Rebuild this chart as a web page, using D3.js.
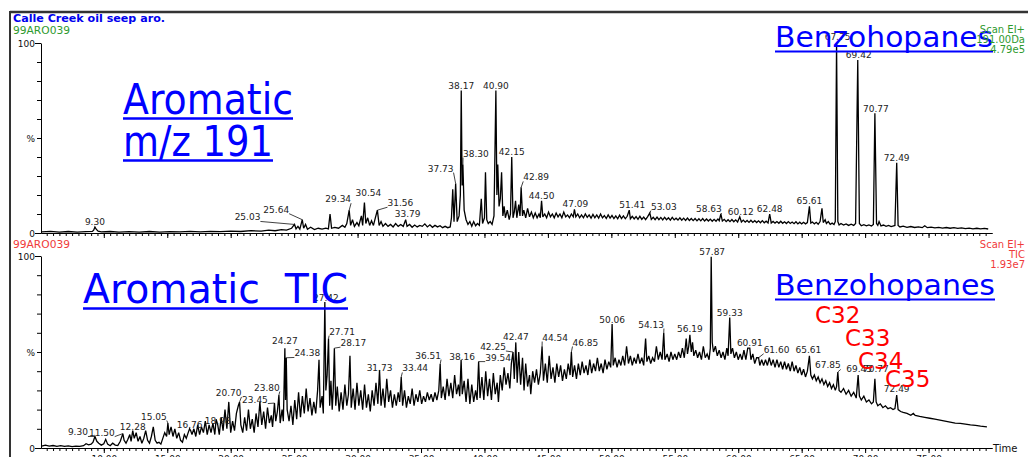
<!DOCTYPE html>
<html><head><meta charset="utf-8">
<script src="https://cdn.jsdelivr.net/npm/d3@7"></script>
<style>body{margin:0;background:#fff;overflow:hidden}svg{display:block}text{font-family:"DejaVu Sans",sans-serif}</style>
</head><body><svg id="c" width="1028" height="457"></svg>
<script>
// ---- data: retention time (min), relative intensity (%) ----
const upperTrace = [
5.1,0.6, 5.8,0.9, 6.5,0.5, 7.2,0.8, 7.9,0.5, 8.6,0.7, 9.1,0.8, 9.2,1.5, 9.30,3.2, 9.4,2.0, 9.55,1.0, 9.8,0.6, 10.5,0.8, 11.2,0.5, 12.0,0.7, 12.8,0.5, 13.6,0.8, 14.4,0.5, 15.2,0.7, 16.0,0.6, 16.8,0.9, 17.6,0.6, 18.4,0.9, 19.2,0.7, 20.0,1.0, 20.8,0.8, 21.6,1.2, 22.4,1.0, 23.0,1.5, 23.5,1.2, 24.0,1.8, 24.4,1.5, 24.8,2.5, 25.03,4.5, 25.15,2.2, 25.3,3.5, 25.45,2.0, 25.64,7, 25.75,2.5, 25.9,4.5, 26.05,2.0, 26.3,3.0, 26.6,1.8, 26.9,2.5, 27.2,2.0, 27.5,2.6, 27.7,2.2, 27.83,10, 27.95,2.5, 28.2,3.0, 28.5,2.5, 28.8,4.0, 29.0,3.0, 29.15,5.0, 29.34,12, 29.45,4.0, 29.6,7, 29.75,3.5, 29.95,5.5, 30.1,3.8, 30.3,9, 30.4,4.0, 30.54,16, 30.65,5, 30.8,8, 30.95,4.0, 31.1,6.5, 31.25,4.0, 31.4,8, 31.56,12, 31.7,4.0, 31.85,6, 32.0,3.5, 32.2,5, 32.4,3.5, 32.6,4.5, 32.8,3.2, 33.0,5, 33.2,3.5, 33.4,4.5, 33.6,3.5, 33.79,7, 33.9,3.5, 34.1,4.5, 34.3,3.0, 34.5,4.2, 34.7,3.2, 34.9,4.0, 35.1,3.5, 35.3,4.8, 35.5,3.2, 35.7,4.3, 35.9,3.0, 36.1,4.0, 36.3,3.2, 36.5,3.8, 36.7,2.8, 36.9,3.5, 37.1,2.8, 37.3,3.2, 37.4,8, 37.5,23, 37.6,6, 37.73,26, 37.85,6, 38.0,9, 38.1,20, 38.17,75, 38.24,25, 38.30,36, 38.4,12, 38.55,7, 38.7,4.5, 38.85,6, 39.0,3.5, 39.15,6, 39.3,3.8, 39.45,5, 39.6,4, 39.75,18, 39.85,5, 40.0,8, 40.08,32, 40.18,7, 40.3,5, 40.45,6, 40.6,4.5, 40.75,9, 40.90,75, 40.98,20, 41.05,36, 41.15,14, 41.25,18, 41.35,32, 41.45,9, 41.55,14, 41.65,8, 41.8,12, 41.95,7, 42.05,10, 42.15,40, 42.25,8, 42.35,11, 42.45,17, 42.55,8, 42.7,15, 42.8,9, 42.89,24, 43.0,9, 43.1,12, 43.25,8, 43.4,13, 43.55,8.5, 43.7,11, 43.85,8, 44.0,10.5, 44.15,8, 44.3,10, 44.4,8, 44.50,17, 44.6,8.5, 44.75,10, 44.9,8, 45.05,11, 45.2,8.5, 45.35,10, 45.5,8, 45.65,10.5, 45.8,8.5, 45.95,10, 46.1,8, 46.25,11, 46.4,8.5, 46.55,9.5, 46.7,8, 46.85,10, 47.0,8.5, 47.09,12.5, 47.2,8.5, 47.35,10, 47.5,8, 47.65,9.5, 47.8,8, 47.95,10, 48.1,8.2, 48.25,9.5, 48.4,7.8, 48.55,9.8, 48.7,8, 48.85,9.5, 49.0,7.8, 49.15,10, 49.3,8, 49.45,9.2, 49.6,7.6, 49.75,9.5, 49.9,7.8, 50.05,9.2, 50.2,7.6, 50.35,9, 50.5,7.5, 50.65,9.4, 50.8,7.6, 50.95,9, 51.1,7.5, 51.25,8.8, 51.41,12, 51.5,7.5, 51.65,8.8, 51.8,7.4, 51.95,8.6, 52.1,7.2, 52.25,8.8, 52.4,7.2, 52.55,8.4, 52.7,7, 52.85,8.5, 53.03,10.5, 53.15,7.2, 53.3,8.3, 53.45,7, 53.6,8.4, 53.75,7, 53.9,8.2, 54.05,6.9, 54.2,8.3, 54.35,7, 54.5,8, 54.65,6.8, 54.8,8.2, 54.95,6.9, 55.1,7.8, 55.25,6.8, 55.4,8, 55.55,6.7, 55.7,7.8, 55.85,6.6, 56.0,7.9, 56.15,6.6, 56.3,7.6, 56.45,6.5, 56.6,7.6, 56.75,6.4, 56.9,7.5, 57.05,6.4, 57.2,7.6, 57.35,6.3, 57.5,7.4, 57.65,6.3, 57.8,7.3, 57.95,6.2, 58.1,7.2, 58.25,6.2, 58.4,7.4, 58.5,6.5, 58.63,10, 58.75,6.3, 58.9,7.2, 59.05,6, 59.2,7, 59.35,6, 59.5,7.1, 59.65,5.9, 59.8,6.9, 59.95,5.8, 60.12,8.5, 60.25,5.8, 60.4,6.8, 60.55,5.7, 60.7,6.6, 60.85,5.6, 61.0,6.7, 61.15,5.6, 61.3,6.5, 61.45,5.5, 61.6,6.4, 61.75,5.4, 61.9,6.5, 62.05,5.4, 62.2,6.2, 62.35,5.3, 62.48,10, 62.6,5.3, 62.75,6.1, 62.9,5.2, 63.05,6, 63.2,5.1, 63.35,6.2, 63.5,5.1, 63.65,5.9, 63.8,5, 63.95,6, 64.1,5, 64.25,5.8, 64.4,4.9, 64.55,5.9, 64.7,4.8, 64.85,5.7, 65.0,4.8, 65.15,5.6, 65.3,4.8, 65.45,5.5, 65.61,14, 65.72,5.2, 65.85,5.8, 66.0,4.8, 66.15,5.6, 66.3,4.6, 66.45,6, 66.6,13, 66.7,5.5, 66.85,7, 66.95,5, 67.1,6, 67.25,4.6, 67.4,5.2, 67.55,4.5, 67.65,6, 67.75,100, 67.85,6, 67.95,4.2, 68.1,5, 68.3,4.2, 68.5,4.8, 68.7,4, 68.9,4.6, 69.1,4, 69.25,5, 69.42,91, 69.55,5, 69.7,3.8, 69.9,4.4, 70.1,3.8, 70.3,4.3, 70.5,3.7, 70.65,4.5, 70.77,63, 70.9,5, 71.0,4, 71.1,6, 71.25,3.7, 71.45,4.2, 71.65,3.5, 71.85,4, 72.05,3.4, 72.25,3.8, 72.35,4, 72.49,37, 72.6,4, 72.75,3.2, 73.0,3.6, 73.3,3.0, 73.6,3.4, 73.9,2.9, 74.2,3.2, 74.5,2.8, 74.7,3.8, 74.9,2.8, 75.2,3.1, 75.5,2.7, 75.8,3.0, 76.1,2.6, 76.4,2.9, 76.7,2.5, 77.0,2.8, 77.3,2.4, 77.6,2.7, 77.9,2.3, 78.2,2.6, 78.5,2.2, 78.8,2.5, 79.1,2.2, 79.4,2.4, 79.7,2.1
];
const lowerTrace = [
5.1,1.0, 5.4,1.5, 5.7,1.0, 6.0,1.3, 6.3,0.9, 6.6,1.2, 6.9,0.8, 7.2,1.1, 7.5,0.7, 7.8,1.0, 8.1,0.8, 8.4,1.2, 8.6,2.2, 8.8,1.6, 9.0,2.0, 9.15,3.0, 9.30,6.0, 9.45,3.5, 9.6,2.5, 9.8,1.5, 10.0,2.2, 10.15,4.5, 10.3,2.0, 10.5,1.2, 10.7,2.5, 10.9,1.5, 11.1,1.3, 11.3,3.5, 11.50,7.5, 11.6,4.0, 11.75,2.5, 11.9,4.5, 12.05,7, 12.15,3.5, 12.28,9, 12.4,5, 12.55,8, 12.7,3.5, 12.85,6,
13.0,2.5, 13.15,5, 13.3,9, 13.45,4, 13.6,2.5, 13.75,6, 13.9,11, 14.05,4, 14.2,2.5, 14.35,3, 14.5,2.0, 14.65,5, 14.8,8, 14.95,6, 15.05,13, 15.15,7, 15.3,11, 15.45,6, 15.6,10, 15.75,5, 15.9,8, 16.05,4, 16.2,3, 16.35,7, 16.5,5, 16.65,8, 16.76,10, 16.85,9, 16.95,7, 17.1,10, 17.25,6, 17.4,12, 17.55,7, 17.7,11, 17.85,8, 18.0,14, 18.15,7, 18.3,12, 18.45,8, 18.6,13, 18.75,7, 18.85,15, 18.98,12, 19.1,7, 19.25,16, 19.4,9, 19.55,20, 19.7,10, 19.85,24, 20.0,8, 20.15,14, 20.3,9, 20.45,18,
20.6,22, 20.70,24, 20.8,12, 20.95,8, 21.1,16, 21.25,9, 21.4,20, 21.55,10, 21.7,15, 21.85,8, 22.0,18, 22.15,11, 22.3,24, 22.45,12, 22.6,19, 22.75,10, 22.9,21, 23.05,13, 23.2,17, 23.3,11, 23.45,23.4, 23.55,14, 23.68,19, 23.80,27.6, 23.9,13, 24.05,20, 24.15,14, 24.27,52, 24.32,25, 24.38,47, 24.45,20, 24.6,14,
24.75,22, 24.9,12, 25.05,25, 25.2,15, 25.35,29, 25.5,16, 25.65,27, 25.8,18, 25.95,31, 26.1,19, 26.25,26, 26.4,17, 26.55,24, 26.7,18, 26.85,30, 26.96,46, 27.05,21, 27.2,27, 27.3,18, 27.42,76, 27.5,30, 27.6,38, 27.71,57, 27.8,22, 27.9,35, 28.0,20, 28.08,30, 28.17,52, 28.28,22, 28.4,32, 28.55,19, 28.7,29, 28.85,20, 29.0,33, 29.15,22, 29.28,28, 29.4,48, 29.5,21, 29.65,31, 29.8,20, 29.95,34, 30.1,22,
30.25,30, 30.4,20, 30.55,33, 30.7,21, 30.85,28, 31.0,19, 31.15,30, 31.3,22, 31.45,34, 31.6,23, 31.73,40.6, 31.85,22, 32.0,31, 32.15,21, 32.3,36, 32.45,24, 32.6,30, 32.75,21, 32.9,28, 33.05,22, 33.2,29, 33.32,24, 33.44,37, 33.55,22, 33.7,30, 33.85,21, 34.0,27, 34.15,23, 34.3,31, 34.45,22, 34.6,28, 34.75,24, 34.9,30, 35.05,23, 35.2,27, 35.35,24, 35.5,29, 35.65,25, 35.8,28, 35.95,24, 36.1,29, 36.25,25, 36.4,30,
36.51,43.7, 36.6,26, 36.75,32, 36.9,25, 37.05,36, 37.2,27, 37.35,34, 37.5,26, 37.65,38, 37.8,28, 37.95,33, 38.05,27, 38.16,46, 38.25,28, 38.4,35, 38.55,24, 38.7,36, 38.85,23, 39.0,33, 39.15,24, 39.3,30, 39.42,25, 39.54,45, 39.65,26, 39.8,37, 39.95,25, 40.1,40, 40.25,27, 40.4,36, 40.55,25, 40.7,39, 40.85,28, 41.0,34, 41.1,24, 41.25,38, 41.4,30, 41.55,42, 41.7,33, 41.85,39, 42.0,31, 42.12,44, 42.25,50, 42.35,36, 42.47,55, 42.58,34, 42.7,50,
42.85,33, 43.0,47, 43.12,30, 43.25,44, 43.4,32, 43.55,38, 43.65,28, 43.8,40, 43.95,34, 44.1,41, 44.25,33, 44.4,39, 44.54,53, 44.65,35, 44.8,44, 44.95,34, 45.1,48, 45.25,36, 45.4,42, 45.55,34, 45.7,44, 45.85,37, 46.0,43, 46.15,35, 46.3,41, 46.45,36, 46.6,44, 46.75,38, 46.85,50, 46.95,37, 47.1,43, 47.25,36, 47.4,44, 47.55,38, 47.7,45, 47.85,39, 48.0,43, 48.15,38, 48.3,46, 48.45,39, 48.6,44, 48.75,40, 48.9,47, 49.05,40, 49.2,44, 49.35,39, 49.5,46, 49.65,41, 49.8,45, 49.95,42, 50.06,64.6,
50.15,43, 50.3,47, 50.45,42, 50.6,46, 50.75,43, 50.9,48, 51.05,43, 51.2,53, 51.35,44, 51.5,48, 51.65,43, 51.8,47, 51.95,44, 52.1,49, 52.25,44, 52.4,47, 52.55,43, 52.7,57, 52.8,45, 52.95,48, 53.1,44, 53.25,47, 53.4,45, 53.55,53, 53.7,46, 53.85,50, 54.0,46, 54.13,60, 54.22,46, 54.4,49, 54.55,45, 54.7,50, 54.85,46, 55.0,49, 55.15,46, 55.3,50, 55.45,47, 55.6,52, 55.75,47, 55.9,57, 56.0,49, 56.1,53, 56.19,59, 56.3,50, 56.4,55, 56.5,48, 56.65,51, 56.8,47, 56.95,50, 57.1,46, 57.25,53, 57.4,47, 57.55,49, 57.7,46, 57.8,52,
57.87,99.6, 57.95,55, 58.05,50, 58.2,53, 58.35,48, 58.5,51, 58.65,47, 58.8,50, 58.95,46, 59.1,52, 59.2,48, 59.33,68, 59.42,49, 59.55,52, 59.7,47, 59.85,50, 60.0,46, 60.15,49, 60.3,46, 60.45,51, 60.6,46, 60.75,52, 60.91,52, 61.0,46, 61.15,49, 61.3,44, 61.45,47, 61.60,47, 61.7,43, 61.85,46, 62.0,43, 62.15,46, 62.3,43, 62.45,47, 62.6,43, 62.75,46, 62.9,42, 63.05,46, 63.2,42, 63.35,45, 63.5,41, 63.65,45, 63.8,41, 63.95,44, 64.1,40, 64.25,45, 64.4,40, 64.55,43, 64.7,39, 64.85,42, 65.0,38, 65.15,41, 65.3,37, 65.45,40, 65.61,48,
65.72,38, 65.85,36, 66.0,38, 66.15,35, 66.3,37, 66.45,34, 66.6,36, 66.75,33, 66.9,35, 67.05,32, 67.2,34, 67.35,31, 67.5,33, 67.65,30, 67.75,32, 67.85,39.6, 67.95,30, 68.1,29, 68.3,31, 68.5,28, 68.7,30, 68.9,27, 69.1,29, 69.3,26, 69.45,38, 69.55,27, 69.7,25, 69.9,27, 70.1,24, 70.3,25, 70.5,23, 70.65,24, 70.77,36, 70.87,24, 71.0,22, 71.2,23, 71.4,21, 71.6,22, 71.8,20.5, 72.0,21, 72.2,20, 72.35,20.5, 72.49,27.6, 72.6,20, 72.8,19, 73.0,18.5, 73.3,18, 73.6,17, 73.8,18, 73.95,17, 74.3,16.5, 74.7,16, 75.1,15.5, 75.5,15, 75.9,14.5, 76.3,14, 76.7,13.5, 77.1,13, 77.5,12.8, 77.9,12.4, 78.3,12, 78.7,11.8, 79.1,11.4, 79.6,11
];
const upperPeakLabels = ["9.30","25.03","25.64","29.34","30.54","31.56","33.79","37.73","38.17","38.30","40.90","42.15","42.89","44.50","47.09","51.41","53.03","58.63","60.12","62.48","65.61","67.75","69.42","70.77","72.49"];
const lowerPeakLabels = ["9.30","11.50","12.28","15.05","16.76","18.98","20.70","23.45","23.80","24.27","24.38","27.42","27.71","28.17","31.73","33.44","36.51","38.16","39.54","42.25","42.47","44.54","46.85","50.06","54.13","56.19","57.87","59.33","60.91","61.60","65.61","67.85","69.45","70.77","72.49"];
const xTickValues = [10,15,20,25,30,35,40,45,50,55,60,65,70,75];
const xTickLabels = ["10.00","15.00","20.00","25.00","30.00","35.00","40.00","45.00","50.00","55.00","60.00","65.00","70.00","75.00"];
const yTickValues = [0,10,20,30,40,50,60,70,80,90,100];
const yTickLabels = ["0","","","","","%","","","","","100"];
const carbonLabels = ["C32","C33","C34","C35"];

// ---- layout (pixel nudges for labels, not data) ----
const upperNudge = {"25.03":[-47,-2],"25.64":[-26,-5],"29.34":[-11,-6],"30.54":[4,-5],"31.56":[23,-2],"33.79":[2,-1],"37.73":[-15,-10],"38.30":[13,-6],"42.89":[15,-5],"47.09":[1,0],"51.41":[3,0],"53.03":[14,-1.5],"58.63":[-12,0],"60.12":[1,0],"67.75":[1,-1.5],"69.42":[1,0],"70.77":[1,1]};
const lowerNudge = {"9.30":[-17,1],"11.50":[-21,4],"12.28":[0,1],"15.05":[-14,-1.5],"16.76":[0,1],"18.98":[0,1.5],"20.70":[-11,-4],"23.45":[-19.5,1.5],"23.80":[-12,-2.5],"24.27":[0,-1.7],"24.38":[21,0.7],"27.42":[1,1.4],"27.71":[13.5,-2],"28.17":[19,0],"31.73":[0,2.5],"33.44":[14,-3.5],"36.51":[-12,-3.5],"38.16":[1,2],"39.54":[19.5,1],"42.25":[-20,0],"44.54":[13,-3.7],"46.85":[14,-4.5],"50.06":[0,1.5],"54.13":[-12.7,-3.3],"56.19":[0,-1],"57.87":[1,0.7],"59.33":[0,1],"61.60":[18,-3],"65.61":[-1,-1],"67.85":[-10,-1.5],"69.45":[1,-1.5],"70.77":[1,-4.4],"72.49":[0,-1.5]};

const toPairs = a => d3.range(0, a.length, 2).map(i => [a[i], a[i+1]]);
const upper = toPairs(upperTrace), lower = toPairs(lowerTrace);

const svg = d3.select("#c");
const x = d3.scaleLinear().domain([5.05, 80]).range([41, 992]);
const yU = d3.scaleLinear().domain([0, 100]).range([233, 43]);
const yL = d3.scaleLinear().domain([0, 100]).range([448, 256]);

// frame
svg.append("line").attr("x1",10).attr("y1",12).attr("x2",1028).attr("y2",12).attr("stroke","#333").attr("stroke-width",2.5);
svg.append("line").attr("x1",10).attr("y1",11).attr("x2",10).attr("y2",457).attr("stroke","#333").attr("stroke-width",2);

function drawAxes(y, showLabels){
  const ya = d3.axisLeft(y).tickValues(yTickValues).tickSize(4).tickSizeOuter(0).tickPadding(2)
     .tickFormat((d,i)=>yTickLabels[i]);
  const gy = svg.append("g").attr("transform","translate(41,0)").call(ya);
  gy.selectAll("text").attr("font-size",9).attr("font-family","DejaVu Sans").attr("fill","#111").attr("dy","0.35em");
  gy.selectAll(".tick line").filter(d=>d===0||d===100).attr("x2",-6);
  gy.selectAll("path,line").attr("stroke","#000");
  const y0 = y(0);
  const minor = d3.range(11, 160).map(i=>i/2).filter(v=>v>x.domain()[0] && v<=80);
  const gm = svg.append("g").attr("transform",`translate(0,${y0})`)
     .call(d3.axisBottom(x).tickValues(minor).tickSize(3).tickSizeOuter(0).tickFormat(""));
  gm.selectAll("path,line").attr("stroke","#000");
  const gM = svg.append("g").attr("transform",`translate(0,${y0})`)
     .call(d3.axisBottom(x).tickValues(xTickValues).tickSize(5).tickSizeOuter(0).tickPadding(3)
       .tickFormat((d,i)=>showLabels?xTickLabels[i]:""));
  gM.selectAll("path,line").attr("stroke","#000");
  gM.selectAll("text").attr("font-size",9).attr("font-family","DejaVu Sans").attr("fill","#111");
}
drawAxes(yU,false);
drawAxes(yL,true);
svg.append("text").attr("x",993).attr("y",452).attr("font-size",10).attr("fill","#111").text("Time");

function drawTrace(data, y){
  svg.append("path").datum(data).attr("fill","none").attr("stroke","#000").attr("stroke-width",1.3)
    .attr("stroke-linejoin","miter").attr("stroke-miterlimit",3)
    .attr("d", d3.line().x(d=>x(d[0])).y(d=>y(d[1])));
}
drawTrace(upper, yU);
drawTrace(lower, yL);

function drawLabels(data, labels, nudge, y){
  const g = svg.append("g").attr("font-size",9).attr("fill","#222");
  labels.forEach(lab=>{
    const t = +lab;
    const p = data.reduce((a,b)=>Math.abs(b[0]-t)<Math.abs(a[0]-t)?b:a);
    const px = x(p[0]), py = y(p[1]);
    const [dx,dy] = nudge[lab] || [0,0];
    const tx = px+dx, ty = py-2+dy;
    const txt = g.append("text").attr("x",tx).attr("y",ty).attr("text-anchor","middle").text(lab);
    if (Math.abs(dx) > 8){
      const w = txt.node().getComputedTextLength();
      const ex = dx<0 ? tx+w/2 : tx-w/2;
      g.append("line").attr("x1",ex).attr("y1",ty+1).attr("x2",px).attr("y2",py)
        .attr("stroke","#111").attr("stroke-width",0.8);
    }
  });
}
drawLabels(upper, upperPeakLabels, upperNudge, yU);
drawLabels(lower, lowerPeakLabels, lowerNudge, yL);

// header texts
svg.append("text").attr("x",13).attr("y",22).attr("font-size",11).attr("font-weight","bold").attr("fill","#0000ee")
  .attr("textLength",152).attr("lengthAdjust","spacingAndGlyphs").text("Calle Creek oil seep aro.");
svg.append("text").attr("x",13).attr("y",34).attr("font-size",10).attr("fill","#2f9a2f")
  .attr("textLength",57).attr("lengthAdjust","spacingAndGlyphs").text("99ARO039");
svg.append("text").attr("x",13).attr("y",248).attr("font-size",10).attr("fill","#f03a3a")
  .attr("textLength",57).attr("lengthAdjust","spacingAndGlyphs").text("99ARO039");

// big blue annotations
function big(txt, x0, base, size, len, ulY, ulW){
  svg.append("text").attr("x",x0).attr("y",base).attr("font-family","Liberation Sans, Arial, sans-serif")
    .attr("font-size",size).attr("fill","#0000ff").attr("textLength",len).attr("lengthAdjust","spacingAndGlyphs")
    .style("white-space","pre").text(txt);
  svg.append("line").attr("x1",x0).attr("x2",x0+len).attr("y1",ulY).attr("y2",ulY).attr("stroke","#0000ff").attr("stroke-width",ulW);
}
big("Aromatic",123,114,42,170,118.5,2.5);
big("m/z 191",123,156,42,150,160.5,2.5);
big("Benzohopanes",775,47,29,218,51.5,2);
big("Aromatic  TIC",83,303,41,265,308.5,2.5);
big("Benzohopanes",775,295,29,220,299.5,2);

// right side info
const gInfo = svg.append("g").attr("font-size",10).attr("text-anchor","end");
[["Scan EI+",33],["191.00Da",43],["4.79e5",53]].forEach(([t,b])=>gInfo.append("text").attr("x",1025).attr("y",b).attr("fill","#2f9a2f").text(t));
[["Scan EI+",248],["TIC",258],["1.93e7",268]].forEach(([t,b])=>gInfo.append("text").attr("x",1025).attr("y",b).attr("fill","#f03a3a").text(t));

// red carbon-number labels
const cPos = [[815,323],[845,346],[858,369],[885,387]];
carbonLabels.forEach((c,i)=>svg.append("text").attr("x",cPos[i][0]).attr("y",cPos[i][1])
  .attr("font-family","Liberation Sans, Arial, sans-serif").attr("font-size",23).attr("fill","#ff0000").text(c));
</script></body></html>
